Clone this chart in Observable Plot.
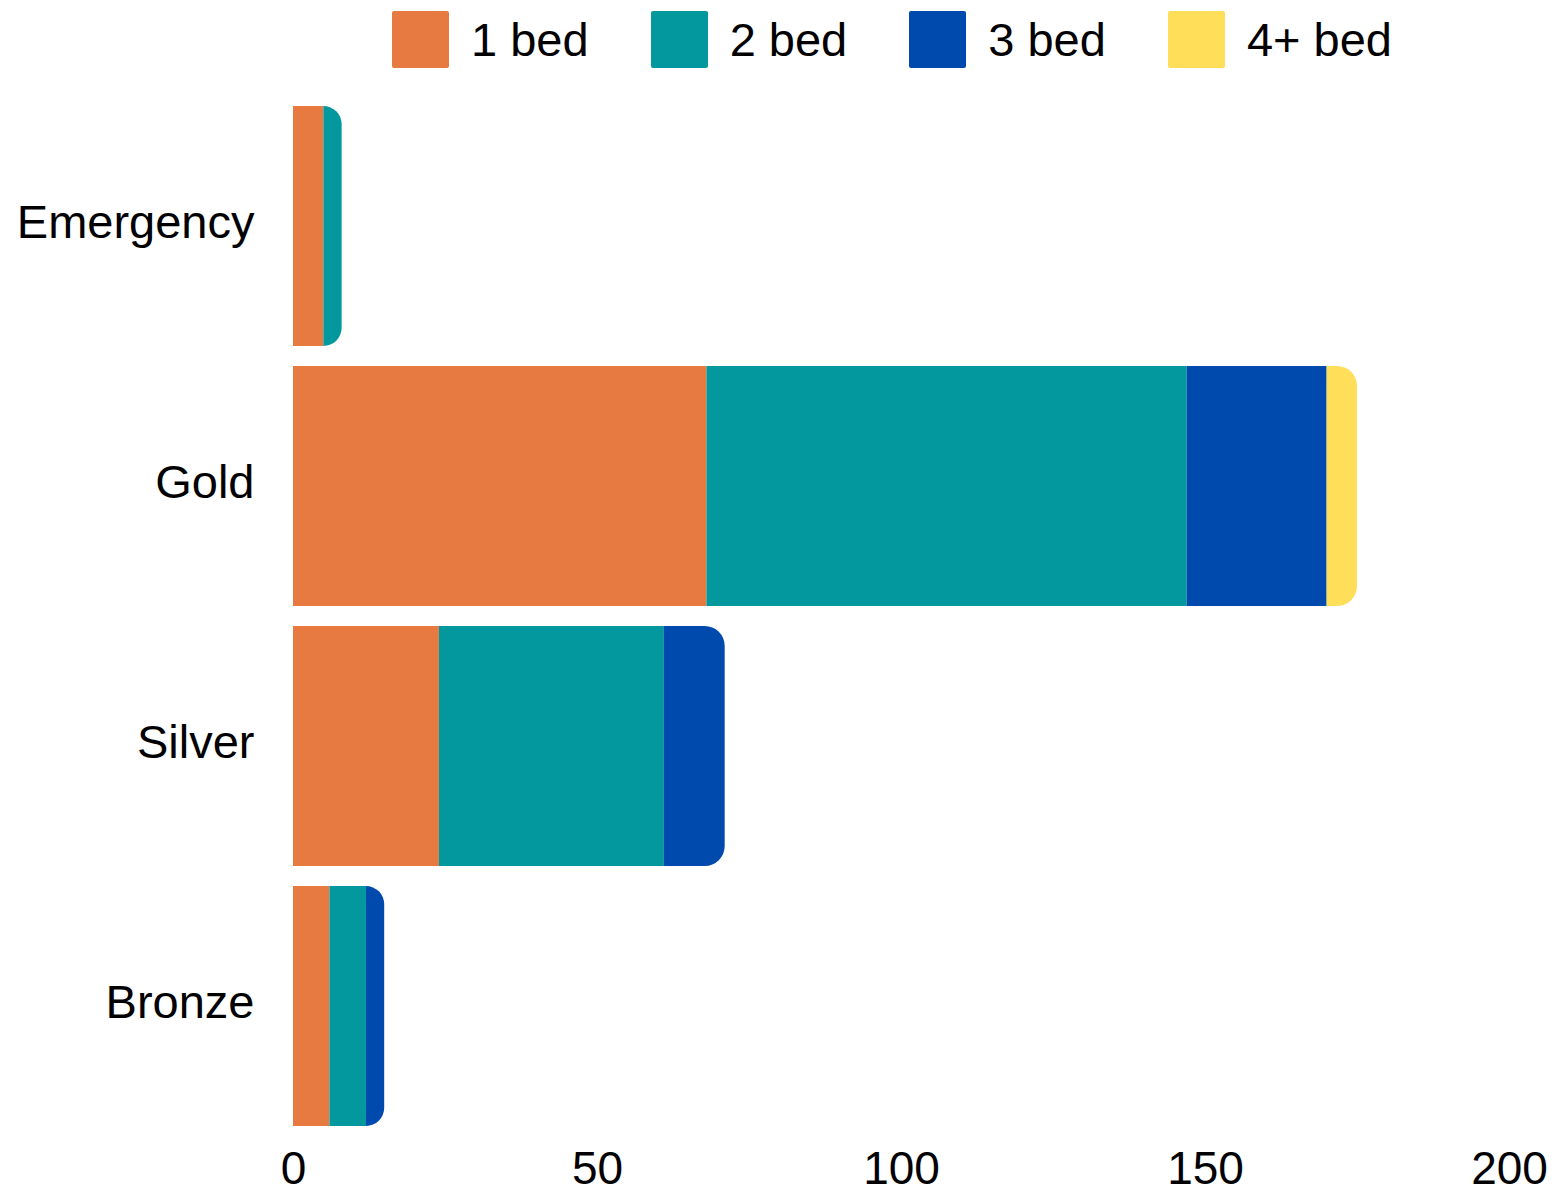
<!DOCTYPE html>
<html>
<head>
<meta charset="utf-8">
<script src="https://cdn.jsdelivr.net/npm/d3@7"></script>
<script src="https://cdn.jsdelivr.net/npm/@observablehq/plot@0.6"></script>
<style>
  html, body { margin: 0; padding: 0; background: #fff; }
  body { width: 1555px; font-family: "Liberation Sans", Arial, sans-serif; }
  #legend { height: 86px; display: flex; align-items: flex-start; padding-left: 392px; box-sizing: border-box; }
  .item { display: flex; align-items: center; margin-top: 11px; margin-right: 62px; }
  .sw { width: 57px; height: 57px; border-radius: 2px; margin-right: 22px; }
  .lab { font-size: 47px; color: #000; line-height: 57px; }
</style>
</head>
<body>
<div id="legend"></div>
<div id="chart"></div>
<script>
const categories = ["Emergency", "Gold", "Silver", "Bronze"];
const seriesNames = ["1 bed", "2 bed", "3 bed", "4+ bed"];
const seriesColors = ["#E67A40", "#03989E", "#004AAD", "#FFDE59"];
const oneBed   = [5, 68, 24, 6];
const twoBed   = [3, 79, 37, 6];
const threeBed = [0, 23, 10, 3];
const fourBed  = [0, 5, 0, 0];
const xTicks = [0, 50, 100, 150, 200];

const seriesValues = [oneBed, twoBed, threeBed, fourBed];

// build stacked rows
const rows = [];
categories.forEach((cat, ci) => {
  let acc = 0;
  const segs = [];
  seriesNames.forEach((s, si) => {
    const v = seriesValues[si][ci];
    if (v > 0) {
      segs.push({category: cat, series: s, x1: acc, x2: acc + v});
      acc += v;
    }
  });
  segs.forEach((d, i) => { d.last = i === segs.length - 1; rows.push(d); });
});

// legend
const legend = document.getElementById("legend");
seriesNames.forEach((s, i) => {
  const it = document.createElement("div");
  it.className = "item";
  it.innerHTML = `<div class="sw" style="background:${seriesColors[i]}"></div><div class="lab">${s}</div>`;
  legend.appendChild(it);
});

const chart = Plot.plot({
  width: 1555,
  height: 1105,
  marginTop: 0,
  marginBottom: 45,
  marginLeft: 293,
  marginRight: 46,
  style: {fontFamily: "Liberation Sans, Arial, sans-serif", color: "#000", background: "#fff", overflow: "visible"},
  x: {domain: [0, 200], label: null},
  y: {domain: categories, padding: 20 / 260, label: null},
  color: {domain: seriesNames, range: seriesColors},
  marks: [
    Plot.barX(rows.filter(d => !d.last), {x1: "x1", x2: "x2", y: "category", fill: "series"}),
    Plot.barX(rows.filter(d => d.last), {x1: "x1", x2: "x2", y: "category", fill: "series", rx2: 20}),
    Plot.axisX({ticks: xTicks, tickSize: 0, tickPadding: 5, fontSize: 46, tickFormat: d => String(d)}),
    Plot.axisY({tickSize: 0, tickPadding: 39, fontSize: 47, dy: -4})
  ]
});
document.getElementById("chart").appendChild(chart);
</script>
</body>
</html>
